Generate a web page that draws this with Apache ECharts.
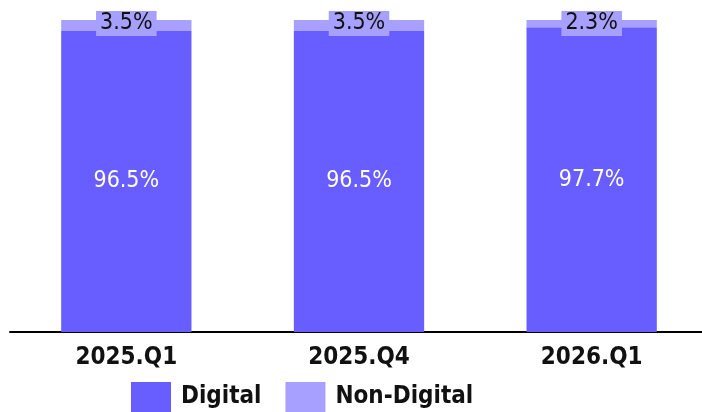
<!DOCTYPE html>
<html>
<head>
<meta charset="utf-8">
<script src="https://cdn.jsdelivr.net/npm/echarts@6/dist/echarts.min.js"></script>
<style>
  html, body { margin: 0; padding: 0; background: #fff; overflow: hidden; }
  #chart { width: 708px; height: 412px; }
</style>
</head>
<body>
<div id="chart"></div>
<script>
// quarters and shares (%)
var quarters = ['2025.Q1', '2025.Q4', '2026.Q1'];
var digital = [96.5, 96.5, 97.7];
var nonDigital = [3.5, 3.5, 2.3];

var FONT = '"DejaVu Sans Condensed", "DejaVu Sans", sans-serif';
var DARK = '#685eff';
var LIGHT = '#a7a0ff';

// chart is a little wider than the window: the axis runs off the right edge
var chart = echarts.init(document.getElementById('chart'));
var option = {
  animation: false,
  textStyle: { fontFamily: FONT },
  grid: { left: 10, top: 20, right: 0, bottom: 80, containLabel: false },
  legend: {
    left: 131,
    top: 382,
    padding: 0,
    itemWidth: 40,
    itemHeight: 30,
    itemGap: 24,
    icon: 'rect',
    textStyle: { fontFamily: FONT, fontSize: 24, fontWeight: 'bold', color: '#111', padding: [0, 0, 0, 5] },
    data: ['Digital', 'Non-Digital']
  },
  xAxis: {
    type: 'category',
    data: quarters,
    axisLine: { lineStyle: { color: '#000', width: 2 } },
    axisTick: { show: false },
    axisLabel: { fontFamily: FONT, fontSize: 24, fontWeight: 'bold', color: '#111', margin: 14 }
  },
  yAxis: { type: 'value', min: 0, max: 100, show: false },
  series: [
    {
      name: 'Digital',
      type: 'bar',
      stack: 'total',
      barWidth: '56%',
      data: digital,
      itemStyle: { color: DARK },
      label: {
        show: true,
        position: 'inside',
        color: '#fff',
        fontFamily: FONT,
        fontSize: 23,
        formatter: function (p) { return p.value.toFixed(1) + '%'; }
      }
    },
    {
      name: 'Non-Digital',
      type: 'bar',
      stack: 'total',
      data: nonDigital,
      itemStyle: { color: LIGHT },
      label: {
        show: true,
        position: 'top',
        distance: -16,
        color: '#111',
        fontFamily: FONT,
        fontSize: 23,
        lineHeight: 25,
        backgroundColor: LIGHT,
        padding: [0, 4],
        formatter: function (p) { return p.value.toFixed(1) + '%'; }
      }
    }
  ]
};
chart.setOption(option);
</script>
</body>
</html>
